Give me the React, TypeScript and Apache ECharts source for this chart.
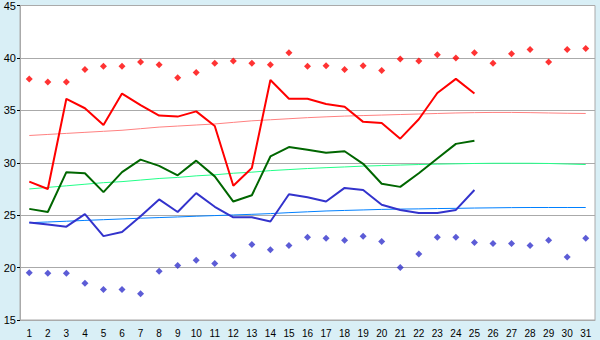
import React, { useEffect, useRef } from "react";
import * as echarts from "echarts";

const days = Array.from({ length: 31 }, (_, i) => String(i + 1));

const recordHigh = [38.0, 37.7, 37.7, 38.9, 39.2, 39.2, 39.6, 39.35, 38.1, 38.6, 39.5, 39.7, 39.5, 39.35, 40.5, 39.2, 39.25, 38.9, 39.25, 38.8, 39.9, 39.7, 40.3, 40.0, 40.5, 39.5, 40.4, 40.8, 39.6, 40.8, 40.9];
const recordLow = [19.5, 19.45, 19.45, 18.5, 17.9, 17.9, 17.5, 19.65, 20.2, 20.7, 20.4, 21.15, 22.2, 21.7, 22.1, 22.9, 22.8, 22.6, 23.0, 22.5, 20.0, 21.3, 22.9, 22.9, 22.4, 22.3, 22.3, 22.1, 22.6, 21.0, 22.8];

const maxTemp = [28.2, 27.5, 36.1, 35.2, 33.6, 36.6, 35.5, 34.5, 34.4, 34.9, 33.5, 27.8, 29.5, 37.9, 36.1, 36.1, 35.6, 35.35, 33.9, 33.8, 32.3, 34.15, 36.65, 38.0, 36.6];
const avgTemp = [25.6, 25.3, 29.1, 29.0, 27.2, 29.1, 30.3, 29.7, 28.8, 30.2, 28.7, 26.3, 26.9, 30.6, 31.5, 31.25, 30.95, 31.1, 29.9, 28.0, 27.7, 29.0, 30.4, 31.8, 32.1];
const minTemp = [24.3, 24.1, 23.9, 25.1, 23.0, 23.4, 24.9, 26.5, 25.3, 27.1, 25.8, 24.8, 24.8, 24.4, 27.0, 26.7, 26.3, 27.6, 27.4, 26.0, 25.5, 25.2, 25.2, 25.5, 27.4];

const maxTrend = [32.6, 32.7, 32.8, 32.9, 33.0, 33.1, 33.25, 33.4, 33.5, 33.6, 33.7, 33.85, 34.0, 34.1, 34.2, 34.3, 34.38, 34.45, 34.5, 34.55, 34.6, 34.65, 34.7, 34.75, 34.78, 34.8, 34.8, 34.78, 34.75, 34.72, 34.7];
const avgTrend = [27.5, 27.65, 27.8, 27.95, 28.1, 28.2, 28.35, 28.5, 28.6, 28.75, 28.85, 29.0, 29.1, 29.25, 29.35, 29.45, 29.53, 29.6, 29.68, 29.73, 29.78, 29.83, 29.87, 29.9, 29.93, 29.95, 29.95, 29.95, 29.93, 29.88, 29.83];
const minTrend = [24.28, 24.35, 24.42, 24.5, 24.57, 24.64, 24.71, 24.77, 24.83, 24.9, 24.96, 25.02, 25.08, 25.15, 25.24, 25.32, 25.4, 25.45, 25.5, 25.55, 25.58, 25.6, 25.63, 25.65, 25.68, 25.7, 25.72, 25.73, 25.73, 25.73, 25.73];

export default function App() {
  const ref = useRef<HTMLDivElement>(null);
  useEffect(() => {
    document.body.style.margin = "0";
    const chart = echarts.init(ref.current!, undefined, { renderer: "svg" });
    const font = "Liberation Sans";
    const line = (data: number[], color: string, width: number) => ({
      type: "line",
      data,
      showSymbol: false,
      symbol: "none",
      lineStyle: { color, width },
      itemStyle: { color },
      z: width > 1 ? 3 : 2,
    });
    chart.setOption({
      animation: false,
      backgroundColor: "#d9eff6",
      grid: {
        left: 20,
        right: 5,
        top: 5,
        bottom: 20,
        show: true,
        backgroundColor: "#ffffff",
        borderColor: "#aaaaaa",
        borderWidth: 1,
      },
      xAxis: {
        type: "category",
        data: days,
        boundaryGap: true,
        axisLine: { lineStyle: { color: "#aaaaaa" } },
        axisTick: { alignWithLabel: true, interval: 0, length: 5, lineStyle: { color: "#000000" } },
        axisLabel: { interval: 0, color: "#000", fontFamily: font, fontSize: 10, margin: 8 },
        splitLine: { show: false },
      },
      yAxis: {
        type: "value",
        min: 15,
        max: 45,
        interval: 5,
        axisLine: { show: true, lineStyle: { color: "#aaaaaa" } },
        axisTick: { show: true, length: 3, lineStyle: { color: "#000000" } },
        axisLabel: { color: "#000", fontFamily: font, fontSize: 11, margin: 4 },
        splitLine: { show: true, lineStyle: { color: "#aaaaaa", width: 1 } },
      },
      series: [
        line(maxTrend, "#ff8080", 1),
        line(avgTrend, "#22ff88", 1),
        line(minTrend, "#0080ff", 1),
        line(maxTemp, "#ff0000", 2),
        line(avgTemp, "#006600", 2),
        line(minTemp, "#3333cc", 2),
        {
          type: "scatter",
          data: recordHigh,
          symbol: "diamond",
          symbolSize: 7,
          itemStyle: { color: "#ff0000" },
          z: 4,
        },
        {
          type: "scatter",
          data: recordLow,
          symbol: "diamond",
          symbolSize: 7,
          itemStyle: { color: "#3333cc" },
          z: 4,
        },
      ],
    });
    return () => chart.dispose();
  }, []);
  return <div ref={ref} style={{ width: 600, height: 340 }} />;
}
